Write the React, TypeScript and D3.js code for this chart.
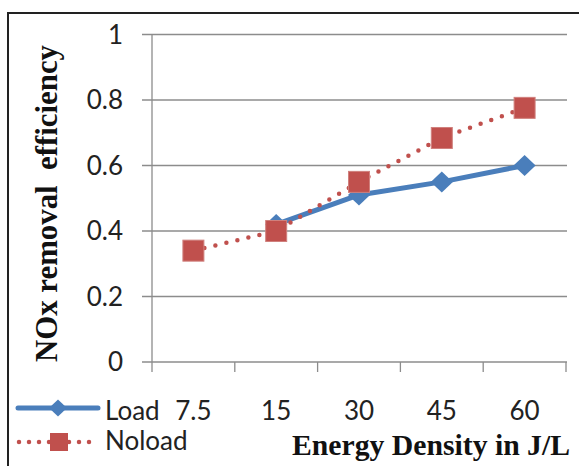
import React, { useRef, useEffect } from 'react';
import * as d3 from 'd3';

const categories = ['7.5', '15', '30', '45', '60'];
const loadValues: (number | null)[] = [null, 0.42, 0.51, 0.55, 0.6];
const noloadValues: (number | null)[] = [0.34, 0.4, 0.55, 0.684, 0.776];
const yTicks = [0, 0.2, 0.4, 0.6, 0.8, 1];

const W = 579;
const H = 466;
const BLUE = '#4a7ebb';
const RED = '#c0504d';

export default function App() {
    const ref = useRef<SVGSVGElement>(null);

    useEffect(() => {
        if (!ref.current) return;
        const svg = d3.select(ref.current);
        svg.selectAll('*').remove();

        const x = d3.scaleBand().domain(categories).range([152, 566]).padding(0);
        const y = d3.scaleLinear().domain([0, 1]).range([362, 34.5]);
        const cx = (c: string) => (x(c) as number) + x.bandwidth() / 2;

        /* frame */
        svg.append('rect')
            .attr('x', 8).attr('y', 13)
            .attr('width', 620).attr('height', 520)
            .attr('fill', 'white')
            .attr('stroke', '#222').attr('stroke-width', 2);

        /* gridlines + y ticks */
        svg.append('g').selectAll('line').data(yTicks.filter(t => t > 0))
            .enter().append('line')
            .attr('x1', 142).attr('x2', 567)
            .attr('y1', d => y(d)).attr('y2', d => y(d))
            .attr('stroke', '#8c8c8c').attr('stroke-width', 1.3);

        svg.append('line')
            .attr('x1', 142).attr('x2', 567)
            .attr('y1', y(0)).attr('y2', y(0))
            .attr('stroke', '#8c8c8c').attr('stroke-width', 1.3);
        svg.append('line')
            .attr('x1', 152).attr('x2', 152)
            .attr('y1', y(1)).attr('y2', y(0))
            .attr('stroke', '#8c8c8c').attr('stroke-width', 1.3);

        const bounds = [...categories.map(c => x(c) as number), 566];
        svg.append('g').selectAll('line').data(bounds)
            .enter().append('line')
            .attr('x1', d => d).attr('x2', d => d)
            .attr('y1', y(0)).attr('y2', y(0) + 10)
            .attr('stroke', '#8c8c8c').attr('stroke-width', 1.3);

        svg.append('g').selectAll('text').data(yTicks)
            .enter().append('text')
            .attr('x', 123).attr('y', d => y(d))
            .attr('dy', '0.35em')
            .attr('text-anchor', 'end')
            .attr('font-family', 'Lato, sans-serif')
            .attr('font-size', 26)
            .attr('fill', '#222')
            .text(d => String(d));

        svg.append('g').selectAll('text').data(categories)
            .enter().append('text')
            .attr('x', d => cx(d)).attr('y', 420)
            .attr('text-anchor', 'middle')
            .attr('font-family', 'Lato, sans-serif')
            .attr('font-size', 26)
            .attr('fill', '#222')
            .text(d => d);

        /* titles */
        svg.append('text')
            .attr('transform', 'translate(57,362) rotate(-90)')
            .attr('font-family', '"Liberation Serif", "Times New Roman", serif')
            .attr('font-weight', 'bold')
            .attr('font-size', 31)
            .attr('textLength', 317)
            .attr('lengthAdjust', 'spacingAndGlyphs')
            .attr('fill', '#111')
            .attr('xml:space', 'preserve')
            .text('NOx removal  efficiency');

        svg.append('text')
            .attr('x', 570).attr('y', 455)
            .attr('text-anchor', 'end')
            .attr('font-family', '"Liberation Serif", "Times New Roman", serif')
            .attr('font-weight', 'bold')
            .attr('font-size', 30)
            .attr('textLength', 278)
            .attr('lengthAdjust', 'spacingAndGlyphs')
            .attr('fill', '#111')
            .text('Energy Density in J/L');

        /* series */
        const line = d3.line<number | null>()
            .defined(d => d !== null)
            .x((_, i) => cx(categories[i]))
            .y(d => y(d as number));

        svg.append('path')
            .datum(loadValues)
            .attr('d', line)
            .attr('fill', 'none')
            .attr('stroke', BLUE).attr('stroke-width', 5)
            .attr('stroke-linejoin', 'round');

        const diamond = (s: number) => `M0,${-s}L${s * 1.05},0L0,${s}L${-s * 1.05},0Z`;
        svg.append('g').selectAll('path')
            .data(loadValues.map((v, i) => ({ v, c: categories[i] })).filter(d => d.v !== null))
            .enter().append('path')
            .attr('transform', d => `translate(${cx(d.c)},${y(d.v as number)})`)
            .attr('d', diamond(10.5))
            .attr('fill', BLUE);

        svg.append('path')
            .datum(noloadValues)
            .attr('d', line)
            .attr('fill', 'none')
            .attr('stroke', RED).attr('stroke-width', 4.5)
            .attr('stroke-linecap', 'round')
            .attr('stroke-dasharray', '0 11.3');

        svg.append('g').selectAll('rect')
            .data(noloadValues.map((v, i) => ({ v, c: categories[i] })).filter(d => d.v !== null))
            .enter().append('rect')
            .attr('x', d => cx(d.c) - 10.5)
            .attr('y', d => y(d.v as number) - 10.5)
            .attr('width', 21).attr('height', 21)
            .attr('fill', RED)
            .attr('stroke', '#d0807d').attr('stroke-width', 1);

        /* legend */
        const leg = svg.append('g');
        leg.append('line')
            .attr('x1', 18).attr('x2', 98).attr('y1', 408).attr('y2', 408)
            .attr('stroke', BLUE).attr('stroke-width', 5).attr('stroke-linecap', 'round');
        leg.append('path')
            .attr('transform', 'translate(58,408)')
            .attr('d', diamond(8.5))
            .attr('fill', BLUE);
        leg.append('line')
            .attr('x1', 19).attr('x2', 98).attr('y1', 442).attr('y2', 442)
            .attr('stroke', RED).attr('stroke-width', 4.5)
            .attr('stroke-linecap', 'round')
            .attr('stroke-dasharray', '0 10');
        leg.append('rect')
            .attr('x', 50).attr('y', 433).attr('width', 18).attr('height', 18)
            .attr('fill', RED);
        leg.append('text')
            .attr('x', 105).attr('y', 420)
            .attr('font-family', 'Lato, sans-serif').attr('font-size', 26).attr('fill', '#222')
            .text('Load');
        leg.append('text')
            .attr('x', 105).attr('y', 450)
            .attr('font-family', 'Lato, sans-serif').attr('font-size', 26).attr('fill', '#222')
            .text('Noload');
    }, []);

    return (
        <svg
            ref={ref}
            width={W}
            height={H}
            style={{ position: 'absolute', left: 0, top: 0 }}
        />
    );
}
